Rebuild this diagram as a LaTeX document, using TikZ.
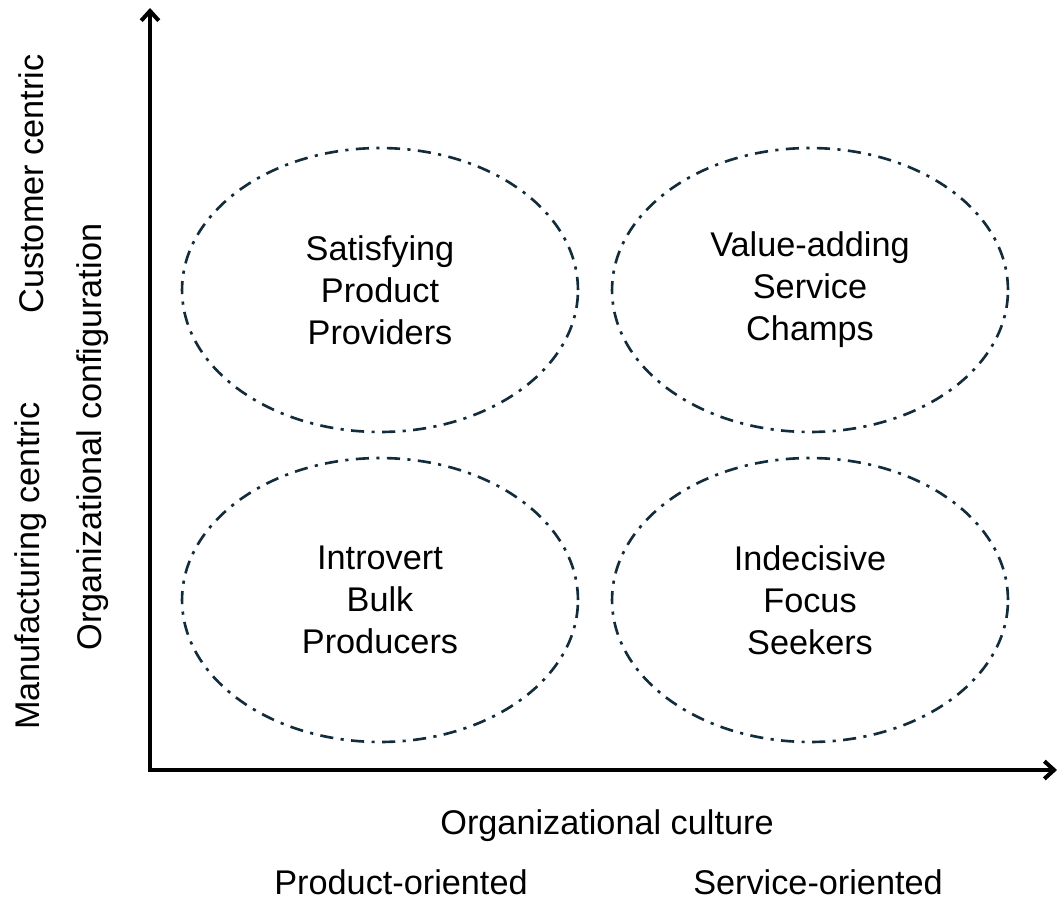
\documentclass[tikz,border=0pt]{standalone}
\usepackage{fontspec}
\setmainfont{Liberation Sans}
\usetikzlibrary{arrows.meta,shapes.geometric}
\definecolor{clusterline}{RGB}{18,44,60}
\newcommand\AxisLabel[3]{%
    \node[label, rotate=90] (#1) at #2 {#3};%
}

\begin{document}
\begin{tikzpicture}[x=0.02cm, y=-0.02cm,
    label/.style={font=\fontsize{19.5}{24}\selectfont, inner sep=0pt},
    cluster/.style={ellipse, draw=clusterline, line width=1.5pt,
        dash pattern=on 7.5pt off 4.2pt on 1.8pt off 4.2pt,
        minimum width=7.92cm, minimum height=5.68cm, align=center,
        font=\fontsize{19.5}{23.9}\selectfont},
    axis/.style={line width=2.3pt, {Straight Barb[length=5.5pt,width=10pt]}-{Straight Barb[length=5.5pt,width=10pt]}}]
\useasboundingbox (0,0) rectangle (1057,899);

% axes
\coordinate (origin) at (150,770);
\coordinate (ytip) at (150,8);
\coordinate (xtip) at (1057,770);
\draw[axis, line join=miter] (ytip) -- (origin) -- (xtip);

% the four groups
\node[cluster] (spp) at (380,290) {Satisfying\\Product\\Providers};
\node[cluster] (vsc) at (810,290) {Value-adding\\Service\\Champs};
\node[cluster] (ibp) at (380,600) {Introvert\\Bulk\\Producers};
\node[cluster] (ifs) at (810,600) {Indecisive\\Focus\\Seekers};

% axis labels
\node[label] (culture) at (607,826) {Organizational culture};
\node[label] (product) at (401,882) {Product-oriented};
\node[label] (service) at (818,882) {Service-oriented};
\AxisLabel{customer}{(31,184)}{Customer centric}
\AxisLabel{manufacturing}{(31,566)}{Manufacturing centric}
\AxisLabel{config}{(93,437)}{Organizational configuration}
\end{tikzpicture}
\end{document}
